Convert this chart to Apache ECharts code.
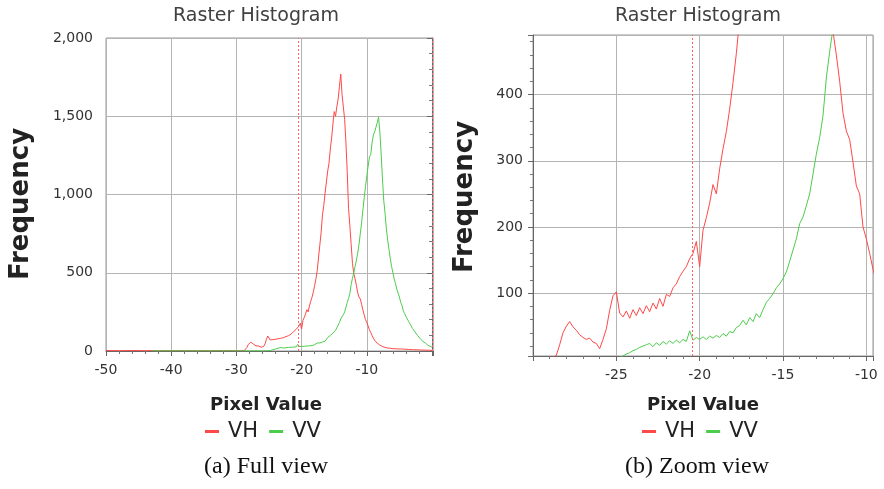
<!DOCTYPE html>
<html>
<head>
<meta charset="utf-8">
<title>Raster Histogram</title>
<style>
  html, body { margin: 0; padding: 0; background: #fff; }
  #main { width: 884px; height: 489px; }
</style>
</head>
<body>
<div id="main"></div>
<script src="https://cdn.jsdelivr.net/npm/echarts@6/dist/echarts.min.js"></script>
<script>
// bin centres (pixel value, dB)
var pixelValue = [
  -50, -48, -46, -44, -43, -42, -40, -38, -36, -34, -32, -30, -29.6, -29.2,
  -29.0, -28.8, -28.6, -28.4, -28.2, -28.0, -27.8, -27.6, -27.4, -27.2,
  -27.0, -26.8, -26.6, -26.4, -26.2, -26.0, -25.8, -25.6, -25.4, -25.2,
  -25.0, -24.8, -24.6, -24.4, -24.2, -24.0, -23.8, -23.6, -23.4, -23.2,
  -23.0, -22.8, -22.6, -22.4, -22.2, -22.0, -21.8, -21.6, -21.4, -21.2,
  -21.0, -20.8, -20.6, -20.4, -20.2, -20.0, -19.8, -19.6, -19.4, -19.2,
  -19.0, -18.8, -18.6, -18.4, -18.2, -18.0, -17.8, -17.6, -17.4, -17.2,
  -17.0, -16.8, -16.6, -16.4, -16.2, -16.0, -15.8, -15.6, -15.4, -15.2,
  -15.0, -14.8, -14.6, -14.4, -14.2, -14.0, -13.8, -13.6, -13.4, -13.2,
  -13.0, -12.8, -12.6, -12.4, -12.2, -12.0, -11.8, -11.6, -11.4, -11.2,
  -11.0, -10.8, -10.6, -10.4, -10.2, -10.0, -9.8, -9.6, -9.4, -9.2,
  -9.0, -8.8, -8.6, -8.4, -8.2, -8.0, -7.8, -7.6, -7.4, -7.2,
  -7.0, -6.8, -6.6, -6.4, -6.2, -6.0, -5.8, -5.6, -5.4, -5.2,
  -5.0, -4.8, -4.6, -4.4, -4.2, -4.0, -3.8, -3.6, -3.4, -3.2,
  -3.0, -2.8, -2.6, -2.4, -2.2, -2.0, -1.8, -1.6, -1.4, -1.2,
  -1.0, -0.8, -0.6, -0.4, -0.2, 0.0
];

// VH frequency
var vhFreq = [
  3, 2, 3, 2, 3, 2, 2, 3, 2, 2, 3, 2, 3, 2,
  2, 3, 6, 22, 40, 50, 57, 49, 44, 37,
  33, 30, 32, 26, 24, 16, 30, 46, 74, 96,
  102, 70, 64, 73, 62, 75, 66, 78, 69, 81,
  72, 85, 76, 92, 80, 98, 95, 108, 114, 125,
  133, 140, 152, 160, 178, 140, 195, 214, 236, 264,
  250, 288, 318, 344, 378, 418, 462, 515, 600, 680,
  760, 870, 930, 1010, 1080, 1150, 1200, 1290, 1360, 1450,
  1530, 1500, 1560, 1610, 1690, 1770, 1640, 1560, 1480, 1330,
  1140, 910, 800, 680, 560, 495, 460, 420, 372, 345,
  332, 298, 262, 250, 200, 182, 160, 136, 118, 100,
  82, 68, 58, 50, 44, 38, 33, 29, 26, 23,
  21, 19, 18, 17, 16, 15, 15, 14, 14, 13,
  13, 13, 12, 12, 11, 11, 10, 10, 9, 9,
  9, 8, 8, 8, 7, 7, 7, 6, 6, 6,
  6, 5, 5, 5, 5, 4
];

// VV frequency
var vvFreq = [
  null, null, null, null, 1, 1, 1, 1, 1, 1, 1, 1, 1, 1,
  1, 1, 1, 1, 1, 1, 1, 1, 1, 1,
  1, 1, 1, 1, 1, 1, 1, 1, 2, 2,
  2, 3, 5, 8, 10, 13, 15, 18, 20, 22,
  24, 19, 25, 21, 27, 23, 28, 24, 29, 25,
  30, 27, 43, 29, 33, 30, 34, 30, 35, 32,
  36, 33, 39, 35, 42, 40, 48, 51, 59, 52,
  63, 57, 69, 63, 75, 86, 92, 99, 108, 114,
  122, 132, 148, 165, 182, 205, 215, 232, 250, 280,
  310, 335, 368, 425, 465, 500, 540, 580, 625, 680,
  750, 820, 900, 980, 1050, 1120, 1180, 1240, 1255, 1330,
  1380, 1400, 1430, 1460, 1494, 1400, 1260, 1100, 960, 880,
  780, 710, 650, 590, 540, 500, 460, 430, 395, 370,
  345, 310, 290, 255, 240, 220, 205, 190, 175, 160,
  145, 134, 122, 110, 98, 88, 78, 70, 62, 57,
  50, 42, 36, 30, 28, 25
];

// dotted threshold lines
var fullMarks = [-20.45, 0];
var zoomMarks = [-20.45];

var FONT = "'DejaVu Sans', sans-serif";
var RED = '#ff4848';
var GREEN = '#4ccc4c';

function pairs(vals) {
    return pixelValue.map(function (x, i) { return [x, vals[i]]; });
}

function marks(list) {
    return {
        silent: true,
        symbol: ['none', 'none'],
        label: { show: false },
        lineStyle: { color: '#ff6060', type: [2, 2], width: 1 },
        data: list.map(function (v) { return { xAxis: v }; })
    };
}

function commaFmt(v) {
    return String(v).replace(/\B(?=(\d{3})+(?!\d))/g, ',');
}

var axisCommon = {
    axisLine: { show: true, lineStyle: { color: '#666' } },
    axisTick: { show: true, length: 5, lineStyle: { color: '#666' } },
    minorTick: { show: true, splitNumber: 5, length: 3, lineStyle: { color: '#777' } },
    axisLabel: { color: '#333', fontSize: 14, fontFamily: FONT },
    splitLine: { show: true, lineStyle: { color: '#b4b4b4' } }
};

function axis(extra) {
    return Object.assign({}, JSON.parse(JSON.stringify(axisCommon)), extra);
}

var legendCommon = {
    orient: 'horizontal',
    padding: 0,
    icon: 'rect',
    itemWidth: 14,
    itemHeight: 3,
    itemGap: 11,
    textStyle: { fontSize: 21, color: '#222', fontFamily: FONT, padding: [0, 0, 0, 4] },
    data: ['VH', 'VV']
};

var myChart = echarts.init(document.getElementById('main'));

var option = {
    animation: false,
    backgroundColor: '#fff',
    grid: [
        { left: 106, top: 38, width: 327, height: 313, show: true, borderColor: '#999', borderWidth: 1, backgroundColor: '#fff' },
        { left: 533, top: 35, width: 340, height: 321, show: true, borderColor: '#999', borderWidth: 1, backgroundColor: '#fff' }
    ],
    xAxis: [
        axis({
            type: 'value', gridIndex: 0, min: -50, max: 0.15, interval: 10, offset: 2,
            axisLabel: { color: '#333', fontSize: 14, fontFamily: FONT, margin: 10, showMaxLabel: false,
                formatter: function (v) { return v >= 0 ? '' : v; } }
        }),
        axis({
            type: 'value', gridIndex: 1, min: -30, max: -9.6, interval: 5,
            axisLabel: { color: '#333', fontSize: 14, fontFamily: FONT, margin: 12,
                showMinLabel: false, showMaxLabel: false }
        })
    ],
    yAxis: [
        axis({
            type: 'value', gridIndex: 0, min: 0, max: 2000, interval: 500, offset: 5,
            axisLabel: { color: '#333', fontSize: 14, fontFamily: FONT, margin: 8, formatter: commaFmt }
        }),
        axis({
            type: 'value', gridIndex: 1, min: 5, max: 490, splitNumber: 5,
            axisLabel: { color: '#333', fontSize: 14, fontFamily: FONT, margin: 10,
                showMinLabel: false, showMaxLabel: false }
        })
    ],
    legend: [
        Object.assign({ left: 205, top: 421 }, legendCommon),
        Object.assign({ left: 642, top: 421 }, legendCommon)
    ],
    series: [
        { name: 'VH', type: 'line', xAxisIndex: 0, yAxisIndex: 0, data: pairs(vhFreq), showSymbol: false,
          color: RED, lineStyle: { width: 1 }, clip: true, markLine: marks(fullMarks) },
        { name: 'VV', type: 'line', xAxisIndex: 0, yAxisIndex: 0, data: pairs(vvFreq), showSymbol: false,
          color: GREEN, lineStyle: { width: 1 }, clip: true },
        { name: 'VH', type: 'line', xAxisIndex: 1, yAxisIndex: 1, data: pairs(vhFreq), showSymbol: false,
          color: RED, lineStyle: { width: 1 }, clip: true, markLine: marks(zoomMarks) },
        { name: 'VV', type: 'line', xAxisIndex: 1, yAxisIndex: 1, data: pairs(vvFreq), showSymbol: false,
          color: GREEN, lineStyle: { width: 1 }, clip: true }
    ],
    graphic: [
        { type: 'text', x: 256, y: 16, style: { text: 'Raster Histogram', font: '19px ' + FONT, fill: '#404040', textAlign: 'center', textVerticalAlign: 'middle' } },
        { type: 'text', x: 698, y: 16, style: { text: 'Raster Histogram', font: '19px ' + FONT, fill: '#404040', textAlign: 'center', textVerticalAlign: 'middle' } },
        { type: 'text', x: 21, y: 204, rotation: Math.PI / 2, style: { text: 'Frequency', font: 'bold 26px ' + FONT, fill: '#222', textAlign: 'center', textVerticalAlign: 'middle' } },
        { type: 'text', x: 465, y: 197, rotation: Math.PI / 2, style: { text: 'Frequency', font: 'bold 26px ' + FONT, fill: '#222', textAlign: 'center', textVerticalAlign: 'middle' } },
        { type: 'text', x: 266, y: 405, style: { text: 'Pixel Value', font: 'bold 18px ' + FONT, fill: '#222', textAlign: 'center', textVerticalAlign: 'middle' } },
        { type: 'text', x: 703, y: 405, style: { text: 'Pixel Value', font: 'bold 18px ' + FONT, fill: '#222', textAlign: 'center', textVerticalAlign: 'middle' } },
        { type: 'text', x: 266, y: 467, style: { text: '(a) Full view', font: "24px 'Liberation Serif', serif", fill: '#111', textAlign: 'center', textVerticalAlign: 'middle' } },
        { type: 'text', x: 697, y: 467, style: { text: '(b) Zoom view', font: "24px 'Liberation Serif', serif", fill: '#111', textAlign: 'center', textVerticalAlign: 'middle' } }
    ]
};

myChart.setOption(option);
</script>
</body>
</html>
